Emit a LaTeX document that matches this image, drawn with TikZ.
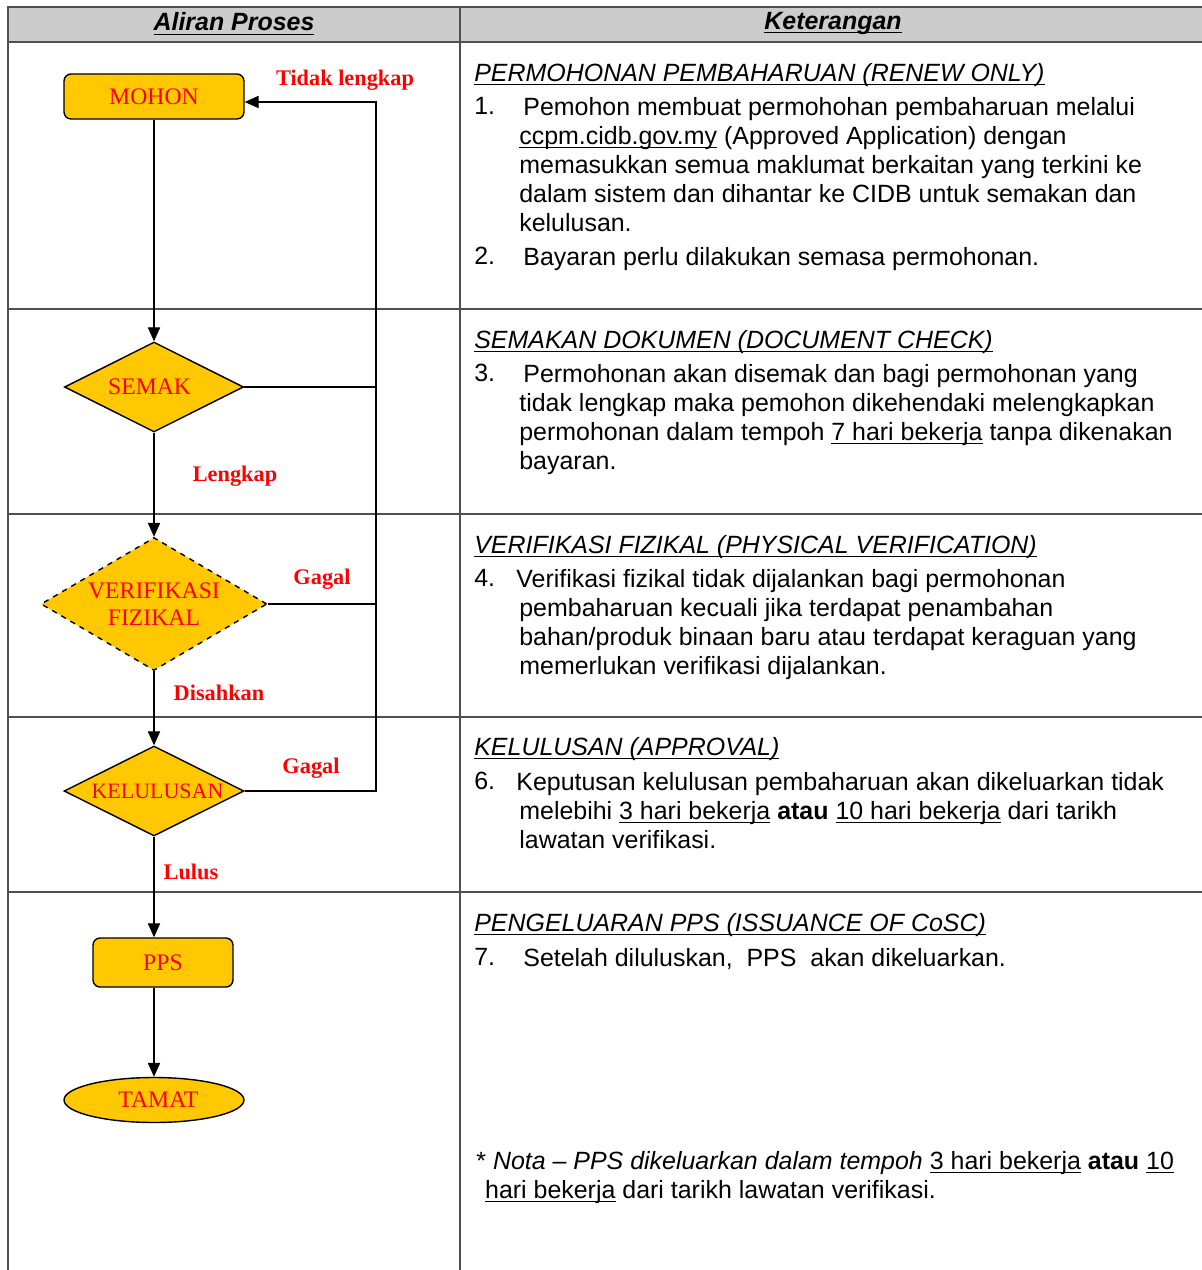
\documentclass[tikz,border=0pt]{standalone}
\usepackage{amsmath}
\usepackage{fontspec}
\setmainfont{Liberation Sans}
\newfontfamily\flowfont{Liberation Serif}
\usetikzlibrary{shapes.geometric,positioning,calc}
\usetikzlibrary{arrows.meta}

\definecolor{gold}{HTML}{FFC800}
\definecolor{hdrgray}{HTML}{CCCCCC}
\definecolor{rulegray}{HTML}{505050}

\newcommand{\uln}[1]{\underline{\smash[b]{#1}}}

\tikzset{
  flow/.style={draw=black, line width=0.8pt, fill=gold, text=red, inner sep=0pt,
    font=\flowfont\fontsize{13.5}{15}\selectfont, align=center},
  procbox/.style={flow, rectangle, rounded corners=4pt},
  decide/.style={flow, diamond, aspect=2},
  lbl/.style={text=red, inner sep=0pt, font=\flowfont\bfseries\fontsize{12.7}{14.5}\selectfont},
  link/.style={line width=0.75pt},
  arr/.style={link, -{Triangle[length=8pt,width=7pt]}},
  tbl/.style={draw=rulegray, line width=1.1pt},
  txt/.style={anchor=north west, inner sep=0pt, align=left, font=\fontsize{14.2}{16.45}\selectfont},
  hdr/.style={inner sep=0pt, font=\bfseries\itshape\fontsize{14.2}{16.45}\selectfont}
}

\begin{document}
\begin{tikzpicture}[x={(0.02cm,0)}, y={(0,-0.02cm)}]
\useasboundingbox (0,0) rectangle (1202,1270);

% table
\fill[hdrgray] (8,7) rectangle (1202,42);
\draw[tbl] (1202,7) -- (8,7) -- (8,1270);
\draw[tbl] (460,7) -- (460,1270);
\foreach \y in {42,309,514,717,892}{\draw[tbl] (8,\y) -- (1202,\y);}

\node[hdr] (h1) at (234,24) {\uln{Aliran Proses}};
\node[hdr] (h2) at (833,23) {\uln{Keterangan}};

% flow
\node[procbox, minimum width=3.6cm, minimum height=0.9cm] (mohon) at (154,96.5) {MOHON};
\node[decide, minimum width=3.58cm, minimum height=1.8cm] (semak) at (154,387) {SEMAK\hspace*{5pt}};
\node[decide, aspect=1.7, dashed, minimum width=4.52cm, minimum height=2.66cm] (verif) at (154,604) {VERIFIKASI\\FIZIKAL};
\node[decide, font=\flowfont\fontsize{12.5}{14}\selectfont, minimum width=3.6cm, minimum height=1.8cm] (lulus) at (154,791) {\hspace*{4pt}KELULUSAN};
\node[procbox, minimum width=2.8cm, minimum height=0.98cm] (pps) at (163,962.5) {PPS};
\node[flow, ellipse, minimum width=3.6cm, minimum height=0.9cm] (tamat) at (154,1100) {\hspace*{5pt}TAMAT};

\coordinate (loop) at (376,102);

\draw[arr] (mohon.south) -- (semak.north);
\draw[arr] (semak.south) -- (verif.north);
\draw[arr] (verif.south) -- (lulus.north);
\draw[arr] (lulus.south) -- (lulus.south |- pps.north);
\draw[arr] (tamat.north |- pps.south) -- (tamat.north);

\draw[arr] (lulus.east) -| (loop) -- (loop -| mohon.east);
\draw[link] (semak.east) -- (semak.east -| loop);
\draw[link] (verif.east) -- (verif.east -| loop);

\node[lbl] (l1) at (345,80) {Tidak lengkap};
\node[lbl] (l2) at (235,476) {Lengkap};
\node[lbl] (l3) at (322,579) {Gagal};
\node[lbl] (l4) at (219,693) {Disahkan};
\node[lbl] (l5) at (311,768) {Gagal};
\node[lbl] (l6) at (191,872) {Lulus};

% keterangan
\node[txt] (s1) at (474,63) {\uln{\textit{PERMOHONAN PEMBAHARUAN (RENEW ONLY)}}};
\node[txt] (n1) at (474,97) {1.};
\node[txt] (p1) at (519,97) {\hspace*{2.3pt}Pemohon membuat permohohan pembaharuan melalui\\
  \uln{ccpm.cidb.gov.my} (Approved Application) dengan\\
  memasukkan semua maklumat berkaitan yang terkini ke\\
  dalam sistem dan dihantar ke CIDB untuk semakan dan\\
  kelulusan.};
\node[txt] (n2) at (474,247) {2.};
\node[txt] (p2) at (523,247) {Bayaran perlu dilakukan semasa permohonan.};

\node[txt] (s2) at (474,330) {\uln{\textit{SEMAKAN DOKUMEN (DOCUMENT CHECK)}}};
\node[txt] (n3) at (474,364) {3.};
\node[txt] (p3) at (519,364) {\hspace*{2.3pt}Permohonan akan disemak dan bagi permohonan yang\\
  tidak lengkap maka pemohon dikehendaki melengkapkan\\
  permohonan dalam tempoh \uln{7 hari bekerja} tanpa dikenakan\\
  bayaran.};

\node[txt] (s3) at (474,535) {\uln{\textit{VERIFIKASI FIZIKAL (PHYSICAL VERIFICATION)}}};
\node[txt] (n4) at (474,569) {4.};
\node[txt] (p4) at (519,569) {\hspace*{-1.7pt}Verifikasi fizikal tidak dijalankan bagi permohonan\\
  pembaharuan kecuali jika terdapat penambahan\\
  bahan/produk binaan baru atau terdapat keraguan yang\\
  memerlukan verifikasi dijalankan.};

\node[txt] (s4) at (474,737) {\uln{\textit{KELULUSAN (APPROVAL)}}};
\node[txt] (n6) at (474,772) {6.};
\node[txt] (p6) at (519,772) {\hspace*{-1.7pt}Keputusan kelulusan pembaharuan akan dikeluarkan tidak\\
  melebihi \uln{3 hari bekerja} \textbf{atau} \uln{10 hari bekerja} dari tarikh\\
  lawatan verifikasi.};

\node[txt] (s5) at (474,913) {\uln{\textit{PENGELUARAN PPS (ISSUANCE OF CoSC)}}};
\node[txt] (n7) at (474,948) {7.};
\node[txt] (p7) at (523,948) {Setelah diluluskan,\ \ PPS\ \ akan dikeluarkan.};

\node[txt] (nota) at (476,1151) {* \textit{Nota – PPS dikeluarkan dalam tempoh} \uln{3 hari bekerja} \textbf{atau} \uln{10}\\
  \hspace*{5pt}\uln{hari bekerja} dari tarikh lawatan verifikasi.};
\end{tikzpicture}
\end{document}
